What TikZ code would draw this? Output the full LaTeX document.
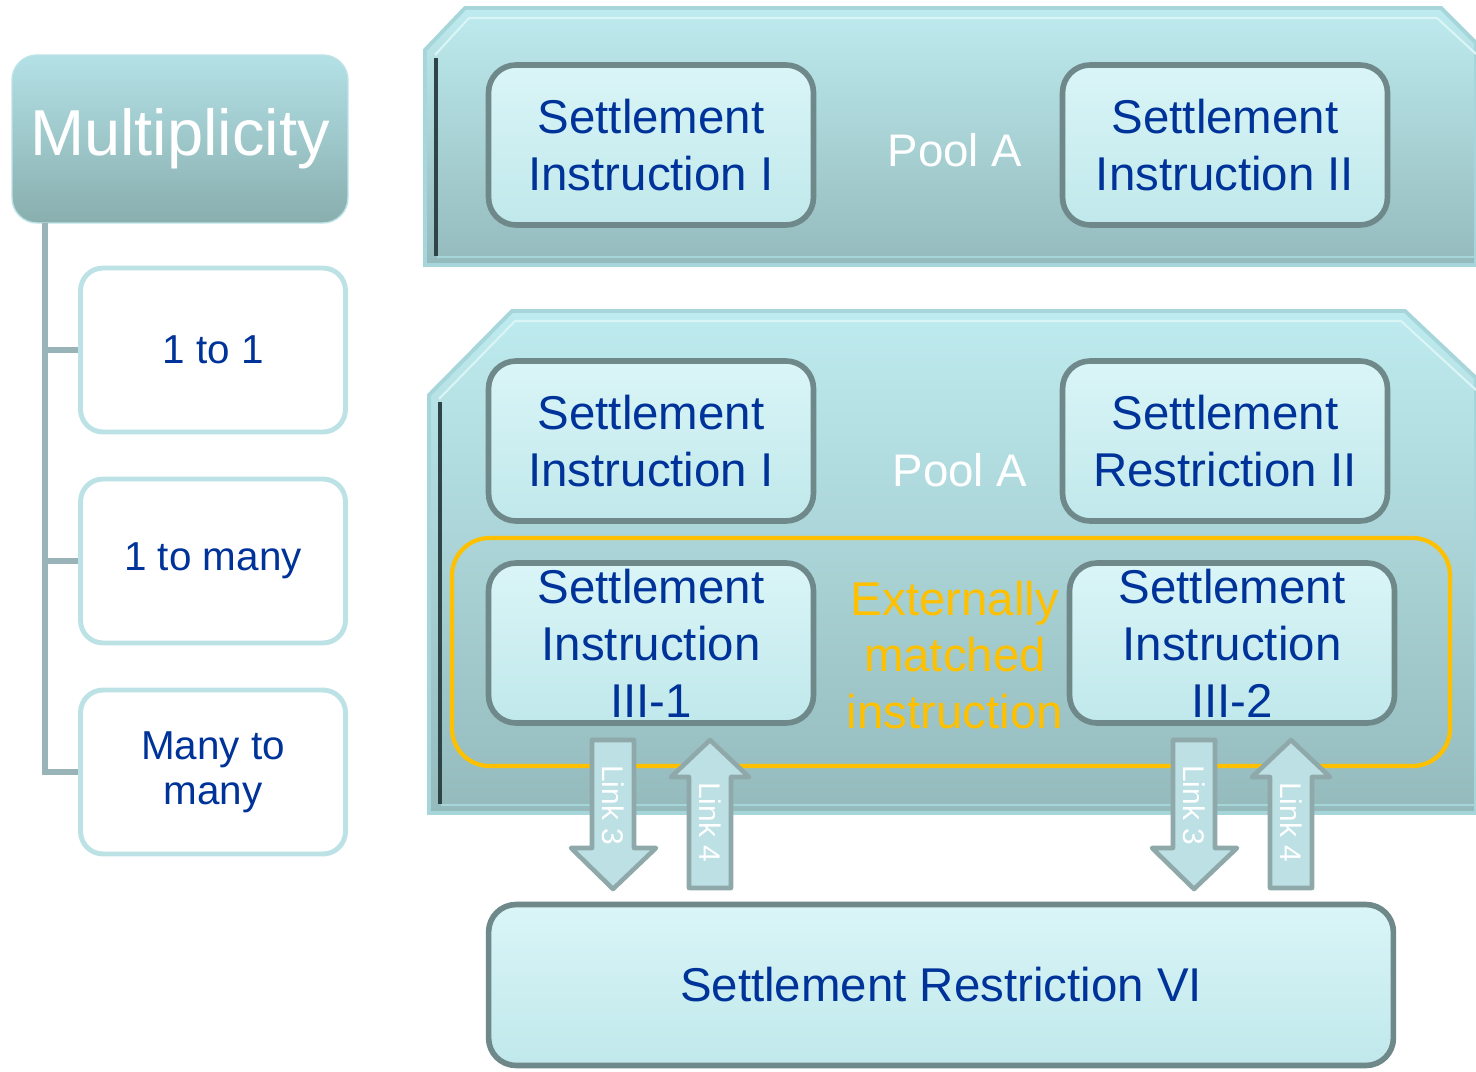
\documentclass[tikz,border=0pt]{standalone}
\usepackage{fontspec}
\setmainfont{Liberation Sans}
\usepackage{xcolor}
\usepackage{tikz}

\definecolor{navy}{HTML}{003399}
\definecolor{boxtop}{HTML}{DAF5F7}
\definecolor{boxbot}{HTML}{C0E8EB}
\definecolor{boxedge}{HTML}{6F898B}
\definecolor{pooltop}{HTML}{BEEBEF}
\definecolor{poolbot}{HTML}{94BABC}
\definecolor{pooledge}{HTML}{A6D6DA}
\definecolor{pooldark}{HTML}{2E4446}
\definecolor{multtop}{HTML}{B3E1E6}
\definecolor{multbot}{HTML}{89AEAE}
\definecolor{kidedge}{HTML}{BCE2E6}
\definecolor{treeline}{HTML}{98B4B8}
\definecolor{matchorange}{HTML}{FFC000}
\definecolor{arrowfill}{HTML}{BCE0E4}
\definecolor{arrowedge}{HTML}{8FA9AB}

\begin{document}
\begin{tikzpicture}[x=0.02cm, y=-0.02cm,
    stbox/.style={draw=boxedge, line width=3.2pt, rounded corners=0.55cm,
        top color=boxtop, bottom color=boxbot, minimum width=6.5cm,
        minimum height=3.2cm, inner sep=0pt, align=center, text=navy,
        font=\fontsize{27}{32.4}\selectfont},
    kidbox/.style={draw=kidedge, line width=2.8pt, rounded corners=0.45cm,
        fill=white, minimum width=5.3cm, minimum height=3.28cm,
        align=center, text=navy, font=\fontsize{23}{25.5}\selectfont},
    pool/.style={top color=pooltop, bottom color=poolbot, draw=pooledge,
        line width=2.2pt},
    poollabel/.style={text=white, font=\fontsize{26}{31}\selectfont},
    linkarrow/.style={fill=arrowfill, draw=arrowedge, line width=2.6pt,
        line join=round},
    linklabel/.style={text=white, rotate=-90, inner sep=0pt,
        font=\fontsize{17}{20}\selectfont}]

    \useasboundingbox (0,0) rectangle (1476,1071);

    % multiplicity tree
    \node[draw=kidedge, line width=0.8pt, rounded corners=0.5cm,
        top color=multtop, bottom color=multbot, minimum width=6.72cm,
        minimum height=3.36cm, text=white,
        font=\fontsize{37}{44}\selectfont] (mult) at (180,139) {Multiplicity};
    \node[kidbox] (one) at (213,350) {1 to 1};
    \node[kidbox] (onemany) at (213,561) {1 to many};
    \node[kidbox] (manymany) at (213,772) {Many to\\many};
    \coordinate (trunk) at (45,223);
    \foreach \kid in {one, onemany, manymany}
        \draw[treeline, line width=3pt] (trunk) |- (\kid.west);

    % pools
    \shade[pool] (425,50) -- (465,8) -- (1441,8) -- (1476,43) -- (1476,265)
        -- (425,265) -- cycle;
    \draw[white!45!pooltop, line width=1.2pt] (435,55) -- (469,18) -- (1437,18)
        -- (1476,54);
    \draw[pooldark, line width=2.4pt] (436,58) -- (436,256);
    \draw[pooledge, line width=1pt] (437,257) -- (1476,257);

    \shade[pool] (429,395) -- (512,311) -- (1405,311) -- (1476,378)
        -- (1476,813) -- (429,813) -- cycle;
    \draw[white!45!pooltop, line width=1.2pt] (439,399) -- (515,321) -- (1401,321)
        -- (1476,390);
    \draw[pooldark, line width=2.4pt] (440,402) -- (440,804);
    \draw[pooledge, line width=1pt] (441,805) -- (1476,805);

    % pool contents
    \node[stbox] (si1) at (651,145) {Settlement\\Instruction I};
    \node[stbox] (si2) at (1225,145) {Settlement\\Instruction II};
    \node[poollabel] (poola) at (955,150) {Pool A};

    \node[stbox] (si1b) at (651,441) {Settlement\\Instruction I};
    \node[stbox] (sr2) at (1225,441) {Settlement\\Restriction II};
    \node[poollabel] (poolb) at (960,470) {Pool A};

    \draw[matchorange, line width=2.4pt, rounded corners=0.75cm]
        (452,538) rectangle (1450,766);
    \node[stbox] (si31) at (651,643) {Settlement\\Instruction\\III-1};
    \node[stbox] (si32) at (1232,643) {Settlement\\Instruction\\III-2};
    \node[text=matchorange, align=center, font=\fontsize{27}{32.4}\selectfont]
        (ext) at (955,655) {Externally\\matched\\instruction};

    \node[stbox, minimum width=18.1cm, minimum height=3.22cm] (sr6)
        at (941,985) {Settlement Restriction VI};

    % links
    \foreach \dx/\tag in {0/a, 581/b} {
        \draw[linkarrow] (592+\dx,740) -- (634+\dx,740) -- (634+\dx,848)
            -- (656+\dx,848) -- (613+\dx,889) -- (571+\dx,848)
            -- (592+\dx,848) -- cycle;
        \node[linklabel] (down\tag) at (613+\dx,805) {Link 3};
        \draw[linkarrow] (689+\dx,888) -- (731+\dx,888) -- (731+\dx,777)
            -- (749+\dx,777) -- (710+\dx,740) -- (671+\dx,777)
            -- (689+\dx,777) -- cycle;
        \node[linklabel] (up\tag) at (710+\dx,822) {Link 4};
    }
\end{tikzpicture}
\end{document}
